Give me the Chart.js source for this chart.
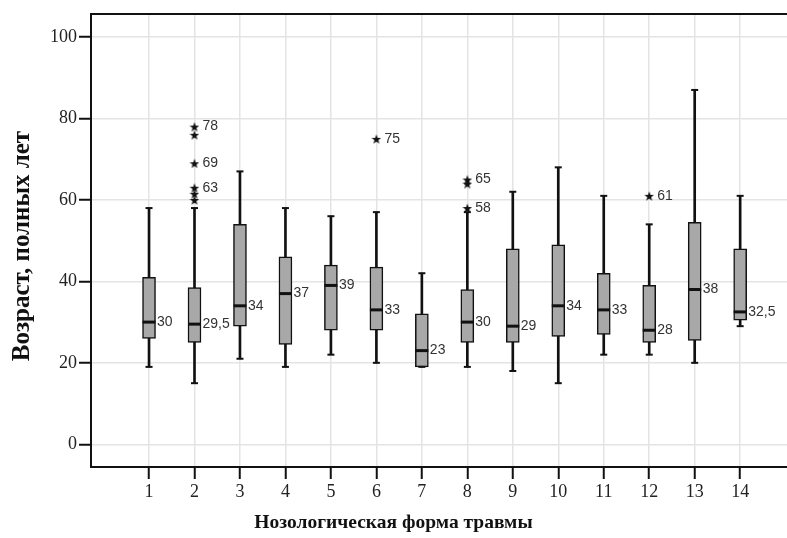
<!DOCTYPE html>
<html>
<head>
<meta charset="utf-8">
<script src="https://cdn.jsdelivr.net/npm/chart.js@4"></script>
<style>
body{margin:0;background:#fff}
</style>
</head>
<body>
<canvas id="chart" width="787" height="538"></canvas>
<script>
// categories (nosological forms) and box statistics
const categories = [1,2,3,4,5,6,7,8,9,10,11,12,13,14]
const whiskerLow  = [19,15,21,19,22,20,19,19,18,15,22,22,20,29]
const q1          = [26,25,29,24.5,28,28,19,25,25,26.5,27,25,25.5,30.5]
const medians     = [30,29.5,34,37,39,33,23,30,29,34,33,28,38,32.5]
const q3          = [41,38.5,54,46,44,43.5,32,38,48,49,42,39,54.5,48]
const whiskerHigh = [58,58,67,58,56,57,42,57,62,68,61,54,87,61]
const medianLabels = ["30","29,5","34","37","39","33","23","30","29","34","33","28","38","32,5"]

const outlierCat = [2,2,2,2,2,2,6,8,8,8,12]
const outlierVal = [78,76,69,63,61.5,60,75,65,64,58,61]
const outlierLabels = ["78","","69","63","","","75","65","","58","61"]

const yTicks = [0,20,40,60,80,100]

const xTitle = "Нозологическая форма травмы"
const yTitle = "Возраст, полных лет"

const ink = "#111"
const serif = "'Liberation Serif', 'Times New Roman', serif"

// filled five-point star like the SPSS extreme marker
function makeStar(size){
  const c = document.createElement("canvas")
  c.width = size
  c.height = size
  const g = c.getContext("2d")
  const r = size/2, ri = r*0.42
  g.beginPath()
  for(let k=0;k<10;k++){
    const rr = k%2 ? ri : r
    const a = -Math.PI/2 + k*Math.PI/5
    g.lineTo(r + rr*Math.cos(a), r + rr*Math.sin(a) + 0.6)
  }
  g.closePath()
  g.fillStyle = ink
  g.fill()
  return c
}
const star = makeStar(10)

const labelPlugin = {
  id:"labels",
  afterDatasetsDraw(chart){
    const ctx = chart.ctx
    const xs = chart.scales.x, ys = chart.scales.y
    ctx.save()
    ctx.font = "14px 'Liberation Sans', Arial, sans-serif"
    ctx.fillStyle = "#333"
    ctx.textAlign = "left"
    ctx.textBaseline = "middle"
    categories.forEach((c,i)=>{
      ctx.fillText(medianLabels[i], xs.getPixelForValue(c)+8, ys.getPixelForValue(medians[i]))
    })
    outlierCat.forEach((c,i)=>{
      if(outlierLabels[i])
        ctx.fillText(outlierLabels[i], xs.getPixelForValue(c)+8, ys.getPixelForValue(outlierVal[i]))
    })
    // top edge of the frame
    const a = chart.chartArea
    ctx.strokeStyle = ink
    ctx.lineWidth = 2
    ctx.beginPath()
    ctx.moveTo(a.left-1, a.top)
    ctx.lineTo(a.right, a.top)
    ctx.stroke()

    // axis titles (x title is centred on the whole picture)
    ctx.fillStyle = ink
    ctx.textAlign = "center"
    ctx.textBaseline = "middle"
    ctx.font = "bold 19.5px " + serif
    ctx.fillText(xTitle, chart.width/2, 523)
    ctx.translate(23, 246)
    ctx.rotate(-Math.PI/2)
    ctx.font = "bold 25px " + serif
    ctx.fillText(yTitle, 0, 0)
    ctx.restore()
  }
}

const caps = []
categories.forEach((c,i)=>{
  caps.push({x:c, y:whiskerLow[i]})
  caps.push({x:c, y:whiskerHigh[i]})
})

new Chart(document.getElementById("chart"), {
  type:"bar",
  data:{
    datasets:[
      {
        type:"bar",
        data:categories.map((c,i)=>({x:c, y:[whiskerLow[i], whiskerHigh[i]]})),
        backgroundColor:ink,
        barThickness:2,
        grouped:false,
        order:5
      },
      {
        type:"bar",
        data:categories.map((c,i)=>({x:c, y:[q1[i], q3[i]]})),
        backgroundColor:"#a8a8a8",
        borderColor:ink,
        borderWidth:1.5,
        borderSkipped:false,
        barThickness:13,
        grouped:false,
        order:4
      },
      {
        type:"scatter",
        data:caps,
        pointStyle:"line",
        pointRadius:3.5,
        borderWidth:2,
        borderColor:ink,
        order:3
      },
      {
        type:"scatter",
        data:categories.map((c,i)=>({x:c, y:medians[i]})),
        pointStyle:"line",
        pointRadius:6.5,
        borderWidth:3,
        borderColor:ink,
        order:2
      },
      {
        type:"scatter",
        data:outlierCat.map((c,i)=>({x:c, y:outlierVal[i]})),
        pointStyle:star,
        pointRadius:5,
        order:1
      }
    ]
  },
  options:{
    responsive:false,
    animation:false,
    layout:{autoPadding:false, padding:{top:14,left:0,right:0,bottom:0}},
    plugins:{legend:{display:false},tooltip:{enabled:false}},
    scales:{
      x:{
        type:"linear",
        offset:false,
        min:-0.276,
        max:15.03,
        afterBuildTicks(s){ s.ticks = categories.map(v=>({value:v})) },
        afterFit(s){ s.height = 71; s.paddingRight = 0; s.paddingLeft = 0 },
        ticks:{
          autoSkip:false,
          maxRotation:0,
          padding:2,
          color:"#222",
          font:{family:serif, size:18}
        },
        grid:{offset:false, color:"#e4e4e4", lineWidth:1.5, tickColor:ink, tickWidth:2, tickLength:12},
        border:{display:true, color:ink, width:2}
      },
      y:{
        min:-5.58,
        max:105.65,
        afterBuildTicks(s){ s.ticks = yTicks.map(v=>({value:v})) },
        afterFit(s){ s.width = 91; s.paddingTop = 0; s.paddingBottom = 0 },
        ticks:{
          padding:2,
          color:"#222",
          font:{family:serif, size:18}
        },
        grid:{color:"#e4e4e4", lineWidth:1.5, tickColor:ink, tickWidth:2, tickLength:12},
        border:{display:true, color:ink, width:2}
      }
    }
  },
  plugins:[labelPlugin]
})
</script>
</body>
</html>
